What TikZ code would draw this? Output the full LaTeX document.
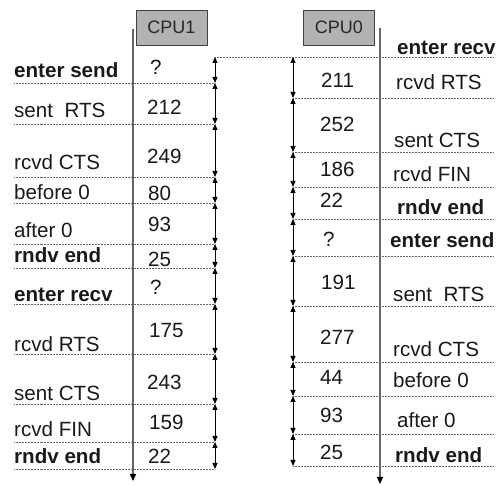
\documentclass[tikz,border=0pt]{standalone}
\usepackage{fontspec}
\setmainfont{Liberation Sans}
\usetikzlibrary{arrows.meta}
\begin{document}
\begin{tikzpicture}[x=1pt,y=-1pt,
  lbl/.style={anchor=base west,inner sep=0pt,text=black!90,font=\fontsize{20.6}{24}\selectfont},
  blbl/.style={lbl,font=\fontsize{20.6}{24}\selectfont\bfseries},
  sepline/.style={draw=black!60,line width=0.9pt,dash pattern=on 0.8pt off 0.7pt},
  dur/.style={draw=black,line width=0.8pt,{Triangle[length=6pt,width=5pt]}-{Triangle[length=6pt,width=5pt]}},
  tline/.style={draw=black!60,line width=1.3pt,-{Triangle[length=7pt,width=6pt,color=black]}},
  cpubox/.style={draw=black!75,fill=black!30,line width=0.9pt,inner sep=0pt,
    minimum width=71pt,minimum height=35pt,font=\fontsize{18}{20}\selectfont,text=black!85}]
\useasboundingbox (0,0) rectangle (496,486);

% CPU boxes
\node[cpubox] (cpu1) at (171.5,27.5) {CPU1};
\node[cpubox] (cpu0) at (339,27.5) {CPU0};

% timelines
\coordinate (t1a) at (133,29);
\coordinate (t1b) at (133,481);
\coordinate (t0a) at (380,28);
\coordinate (t0b) at (380,484);
\draw[tline] (t1a) -- (t1b);
\draw[tline] (t0a) -- (t0b);

% left boundaries
\foreach \y [count=\i from 0] in {57,83,124,177,203,244,268,304,354,404,442,469}{
  \coordinate (L\i) at (215,\y);
  \coordinate (LL\i) at (14,\y);
}
% right boundaries
\foreach \y [count=\i from 0] in {57,98,152,187,219,256,306,362,396,434,466}{
  \coordinate (R\i) at (293,\y);
  \coordinate (RE\i) at (493,\y);
}

% dotted separators
\foreach \i in {1,...,11}{\draw[sepline] (LL\i) -- (L\i);}
\draw[sepline] (L0) -- (RE0);
\foreach \i in {1,...,10}{\draw[sepline] (R\i) -- (RE\i);}

% duration arrows
\foreach \i [evaluate=\i as \j using int(\i+1)] in {0,...,10}{\draw[dur] (L\i) -- (L\j);}
\foreach \i [evaluate=\i as \j using int(\i+1)] in {0,...,9}{\draw[dur] (R\i) -- (R\j);}

% left labels
\node[blbl] (la1) at (14,78) {enter send};
\node[lbl] (la2) at (14,118) {sent~~RTS};
\node[lbl] (la3) at (14,170) {rcvd CTS};
\node[lbl] (la4) at (14,200) {before 0};
\node[lbl] (la5) at (14,238) {after 0};
\node[blbl] (la6) at (14,263) {rndv end};
\node[blbl] (la7) at (14,302) {enter recv};
\node[lbl] (la8) at (14,352) {rcvd RTS};
\node[lbl] (la9) at (14,401) {sent CTS};
\node[lbl] (la10) at (14,437) {rcvd FIN};
\node[blbl] (la11) at (14,464) {rndv end};

% left numbers
\node[lbl] (ln1) at (150,75) {?};
\node[lbl] (ln2) at (147,115) {212};
\node[lbl] (ln3) at (147,164) {249};
\node[lbl] (ln4) at (148,201) {80};
\node[lbl] (ln5) at (148,232) {93};
\node[lbl] (ln6) at (148,267) {25};
\node[lbl] (ln7) at (150,295) {?};
\node[lbl] (ln8) at (149,338) {175};
\node[lbl] (ln9) at (147,390) {243};
\node[lbl] (ln10) at (149,430) {159};
\node[lbl] (ln11) at (148,464) {22};

% right labels
\node[blbl] (ra1) at (397,55) {enter recv};
\node[lbl] (ra2) at (396,90) {rcvd RTS};
\node[lbl] (ra3) at (394,148) {sent CTS};
\node[lbl] (ra4) at (393,182) {rcvd FIN};
\node[blbl] (ra5) at (397,215) {rndv end};
\node[blbl] (ra6) at (390,248) {enter send};
\node[lbl] (ra7) at (393,302) {sent~~RTS};
\node[lbl] (ra8) at (393,357) {rcvd CTS};
\node[lbl] (ra9) at (393,388) {before 0};
\node[lbl] (ra10) at (397,428) {after 0};
\node[blbl] (ra11) at (395,463) {rndv end};

% right numbers
\node[lbl] (rn1) at (321,88) {211};
\node[lbl] (rn2) at (320,132) {252};
\node[lbl] (rn3) at (320,177) {186};
\node[lbl] (rn4) at (320,208) {22};
\node[lbl] (rn5) at (323,247) {?};
\node[lbl] (rn6) at (321,290) {191};
\node[lbl] (rn7) at (320,345) {277};
\node[lbl] (rn8) at (320,385) {44};
\node[lbl] (rn9) at (320,423) {93};
\node[lbl] (rn10) at (320,460) {25};
\end{tikzpicture}
\end{document}
